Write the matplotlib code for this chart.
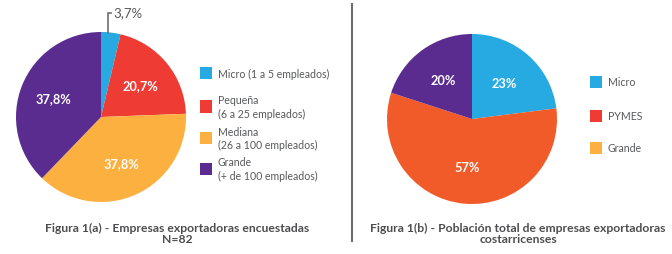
import numpy as np
import matplotlib.pyplot as plt
from matplotlib.patches import Rectangle
from matplotlib.lines import Line2D

plt.rcParams['font.family'] = ['Lato', 'DejaVu Sans']

# ---- data ----
left_labels = ['Micro (1 a 5 empleados)', 'Pequeña\n(6 a 25 empleados)',
               'Mediana\n(26 a 100 empleados)', 'Grande\n(+ de 100 empleados)']
left_values = [3.7, 20.7, 37.8, 37.8]
left_colors = ['#27AAE1', '#EE3B34', '#FBB040', '#5B2C8F']

right_labels = ['Micro', 'PYMES', 'Grande']
right_values = [23, 57, 20]
right_wedge_colors = ['#27AAE1', '#F15A29', '#5B2C8F']
right_legend_colors = ['#27AAE1', '#EE3B34', '#FBB040']

left_title = ['Figura 1(a) - Empresas exportadoras encuestadas', 'N=82']
right_title = ['Figura 1(b) - Población total de empresas exportadoras', 'costarricenses']

W, H = 672, 255
fig = plt.figure(figsize=(W / 100, H / 100), dpi=100)
TXT = '#58595B'
TITLE = '#4D4D4F'


def pie_axes(cx, cy, r):
    ax = fig.add_axes([(cx - r) / W, (H - cy - r) / H, 2 * r / W, 2 * r / H])
    return ax


def fmt_pct1(p):
    return f'{p:.1f}%'.replace('.', ',')


def fmt_left(p):
    return '' if p < 5 else fmt_pct1(p)


def fmt_right(p):
    return f'{p:.0f}%'


# left pie
ax1 = pie_axes(101, 118, 85)
wedges1, _, _ = ax1.pie(left_values, colors=left_colors, startangle=90, counterclock=False,
                        autopct=fmt_left, pctdistance=0.6, radius=1.0,
                        textprops=dict(color='white', fontsize=9.2, fontweight='bold'))
ax1.set_xlim(-1, 1)
ax1.set_ylim(-1, 1)
ax1.axis('off')

# small slice label outside
w0 = wedges1[0]
mid = np.deg2rad((w0.theta1 + w0.theta2) / 2)
x0 = 0.7 * np.cos(mid)
ax1.plot([x0, x0, x0 + 0.04], [np.sin(mid) * 0.99, 1.22, 1.22], color='#6D6E71', lw=1.2,
         clip_on=False, solid_joinstyle='miter')
ax1.text(x0 + 0.07, 1.23, fmt_pct1(left_values[0]),
         color=TXT, fontsize=9.5, ha='left', va='center', clip_on=False)

# right pie
ax2 = pie_axes(472, 120, 85)
ax2.pie(right_values, colors=right_wedge_colors, startangle=90, counterclock=False,
        autopct=fmt_right, pctdistance=0.57, radius=1.0,
        textprops=dict(color='white', fontsize=9.2, fontweight='bold'))
ax2.set_xlim(-1, 1)
ax2.set_ylim(-1, 1)
ax2.axis('off')


def legend(x_sq, x_txt, ys, labels, colors, size=12):
    for y, lab, c in zip(ys, labels, colors):
        fig.add_artist(Rectangle((x_sq / W, (H - y - size / 2) / H), size / W, size / H,
                                 transform=fig.transFigure, facecolor=c, edgecolor='none'))
        fig.text(x_txt / W, (H - y) / H, lab, color=TXT, fontsize=7.6, ha='left',
                 va='center', linespacing=1.3)


legend(200, 218, [74, 107.5, 139, 169.5], left_labels, left_colors)
legend(590, 608, [83, 117, 149], right_labels, right_legend_colors)

# titles
for (cx, lines) in [(177, left_title), (518, right_title)]:
    for y, t in zip([228, 240], lines):
        fig.text(cx / W, (H - y) / H, t, ha='center', va='center', fontsize=8.7,
                 fontweight='bold', color=TITLE)

# divider
fig.add_artist(Line2D([352 / W, 352 / W], [1 - 5 / H, 1 - 242 / H], transform=fig.transFigure,
                      color='#6D6E71', lw=1.5))

fig.savefig('out.png', dpi=100, facecolor='white')
